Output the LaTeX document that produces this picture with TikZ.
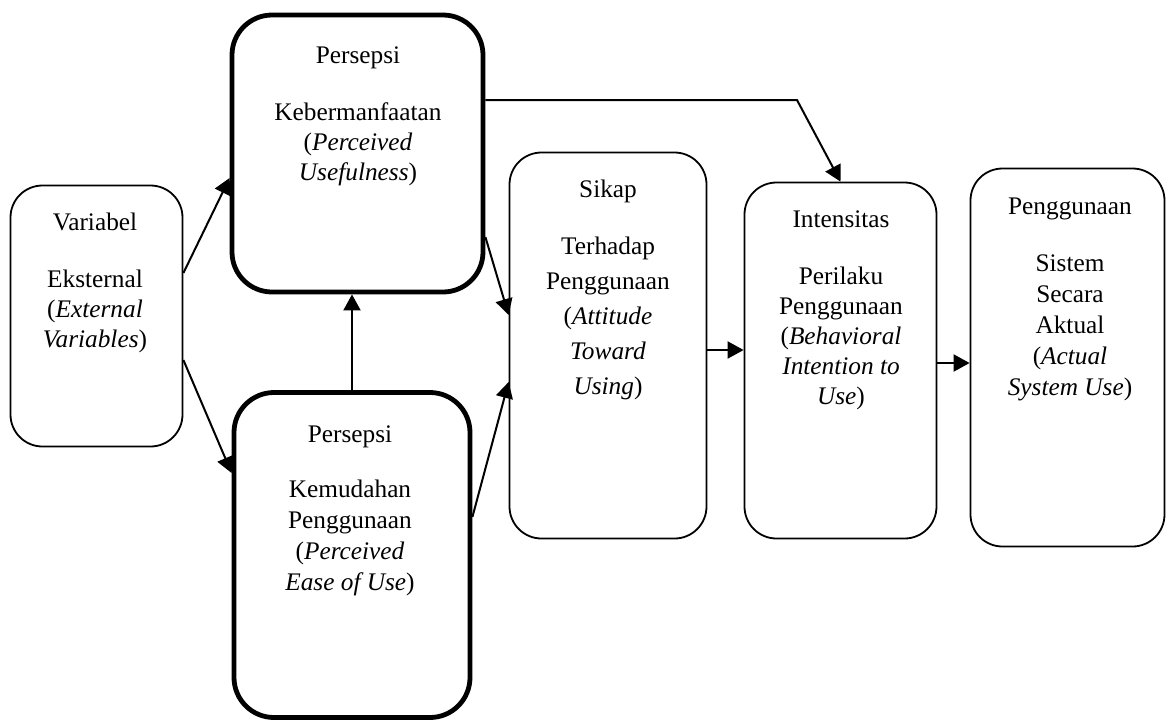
\documentclass[tikz,border=0pt]{standalone}
\usepackage{fontspec}
\setmainfont{Liberation Serif}
\usetikzlibrary{arrows.meta}

\tikzset{
	box/.style={draw, line width=0.9pt, rounded corners=16pt, inner sep=0pt},
	boldbox/.style={box, line width=2.4pt, rounded corners=20pt},
	boxtext/.style={anchor=north, align=center, inner sep=0pt,
		font=\fontsize{12.65}{15}\selectfont,
		execute at begin node={\rule{0pt}{10pt}}},
	arr/.style={line width=1pt, -{Triangle[length=8pt,width=8.5pt]}}
}

\begin{document}
\begin{tikzpicture}[x=0.5pt, y=-0.5pt]
		\useasboundingbox (0,0) rectangle (1168,725);

		\node[box, minimum width=86pt, minimum height=130.5pt] (var) at (96.5,316) {};
		\node[boldbox, minimum width=125.5pt, minimum height=138.5pt] (pu) at (357.5,153.5) {};
		\node[boldbox, minimum width=118pt, minimum height=162.5pt] (peou) at (352,555) {};
		\node[box, minimum width=98.5pt, minimum height=193pt] (sikap) at (608,345.5) {};
		\node[box, minimum width=96pt, minimum height=178pt] (niat) at (840.5,360.5) {};
		\node[box, minimum width=97pt, minimum height=189pt] (guna) at (1067.5,357.5) {};

		\node[boxtext] (vartext) at (95,213) {Variabel\\[13.5pt] Eksternal\\ (\textit{External}\hspace*{7pt}\\ \textit{Variables})};
		\node[boxtext] (putext) at (358,46) {Persepsi\\[13.5pt] Kebermanfaatan\\ (\textit{Perceived}\\ \textit{Usefulness})};
		\node[boxtext] (peoutext) at (350,425) {Persepsi\\[12.5pt] Kemudahan\\[0.5pt] Penggunaan\\[0.5pt] (\textit{Perceived}\hspace*{9pt}\\[0.5pt] \textit{Ease of Use})};
		\node[boxtext, font=\fontsize{12.65}{17.5}\selectfont] (sikaptext) at (608,180) {Sikap\\[11pt] Terhadap\\ Penggunaan\\ (\textit{Attitude}\\ \textit{Toward}\\ \textit{Using})};
		\node[boxtext] (niattext) at (841,210) {Intensitas\\[13.5pt] Perilaku\\ Penggunaan\\ (\textit{Behavioral}\\ \textit{Intention to}\\ \textit{Use})};
		\node[boxtext] (gunatext) at (1070,198) {Penggunaan\\[13.5pt] Sistem\\[0.5pt] Secara\\[0.5pt] Aktual\\[0.5pt] (\textit{Actual}\\[0.5pt] \textit{System Use})};

		\coordinate (knee) at (797,100);

		\draw[arr] (var.east |- 0,273) -- (pu.west |- 0,178);
		\draw[arr] (var.east |- 0,360) -- (peou.west |- 0,473);
		\draw[arr] (peou.north) -- (peou.north |- pu.south);
		\draw[arr] (pu.east |- 0,237) -- (sikap.west |- 0,315);
		\draw[arr] (peou.east |- 0,517) -- (sikap.west |- 0,382);
		\draw[arr] (pu.east |- knee) -- (knee) -- (niat.north);
		\draw[arr] (sikap.east |- 0,350) -- (niat.west |- 0,350);
		\draw[arr] (niat.east |- 0,363) -- (guna.west |- 0,363);
	\end{tikzpicture}
\end{document}
